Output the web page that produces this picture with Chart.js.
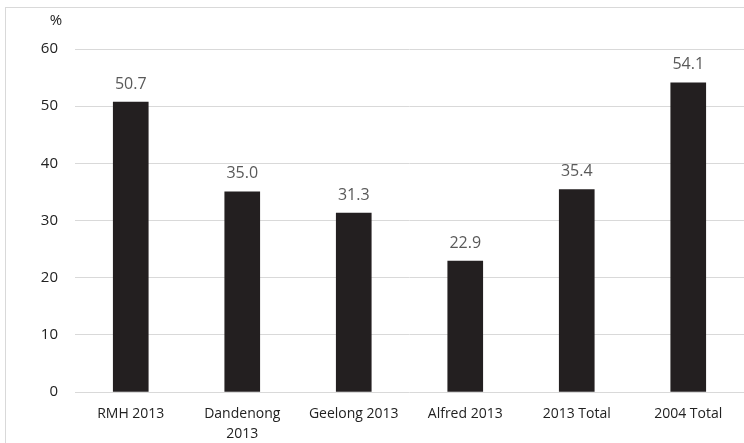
<!DOCTYPE html>
<html>
<head>
<meta charset="utf-8">
<script src="https://cdn.jsdelivr.net/npm/chart.js@4"></script>
<style>
  html, body { margin: 0; padding: 0; background: #fff; overflow: hidden; }
  #frame {
    position: absolute; left: 5px; top: 7px;
    width: 738px; height: 435px;
    border-left: 1px solid #d9d9d9; border-top: 1px solid #d9d9d9;
  }
  canvas { display: block; }
</style>
</head>
<body>
<div id="frame"><canvas id="chart" width="738" height="435"></canvas></div>
<script>
const categories = ['RMH 2013', ['Dandenong', '2013'], 'Geelong 2013', 'Alfred 2013', '2013 Total', '2004 Total'];
const values = [50.7, 35.0, 31.3, 22.9, 35.4, 54.1];
const yTicks = [0, 10, 20, 30, 40, 50, 60];
const unitLabel = '%';

const fontFamily = '"Open Sans", "Noto Sans", sans-serif';

// value labels above each bar + the % unit above the axis
const labelPlugin = {
    id: 'labels',
    afterDatasetsDraw(chart) {
        const ctx = chart.ctx;
        const meta = chart.getDatasetMeta(0);
        ctx.save();
        ctx.font = '16px ' + fontFamily;
        ctx.fillStyle = '#595959';
        ctx.textAlign = 'center';
        ctx.textBaseline = 'middle';
        meta.data.forEach((bar, i) => {
            ctx.fillText(values[i].toFixed(1), bar.x, bar.y - 18);
        });
        ctx.fillStyle = '#222';
        ctx.font = '15px ' + fontFamily;
        ctx.fillText(unitLabel, 50, 13);
        ctx.restore();
    }
};

new Chart(document.getElementById('chart'), {
    type: 'bar',
    data: {
        labels: categories,
        datasets: [{
            data: values,
            backgroundColor: '#231f20',
            barThickness: 35
        }]
    },
    options: {
        responsive: false,
        animation: false,
        layout: { padding: { top: 41, right: 0, left: 0, bottom: 0 } },
        scales: {
            x: {
                grid: { display: false },
                border: { display: false },
                ticks: {
                    color: '#222',
                    padding: 4,
                    maxRotation: 0,
                    autoSkip: false,
                    font: { family: fontFamily, size: 14, lineHeight: 20 / 14 }
                },
                afterFit: s => { s.height = 51; }
            },
            y: {
                min: 0,
                max: 60,
                afterBuildTicks: s => { s.ticks = yTicks.map(v => ({ value: v })); },
                grid: { color: '#d9d9d9', drawTicks: false },
                border: { display: false },
                ticks: {
                    color: '#222',
                    padding: 17,
                    font: { family: fontFamily, size: 15 }
                },
                afterFit: s => { s.width = 69; }
            }
        },
        plugins: {
            legend: { display: false },
            tooltip: { enabled: false }
        }
    },
    plugins: [labelPlugin]
});
</script>
</body>
</html>
